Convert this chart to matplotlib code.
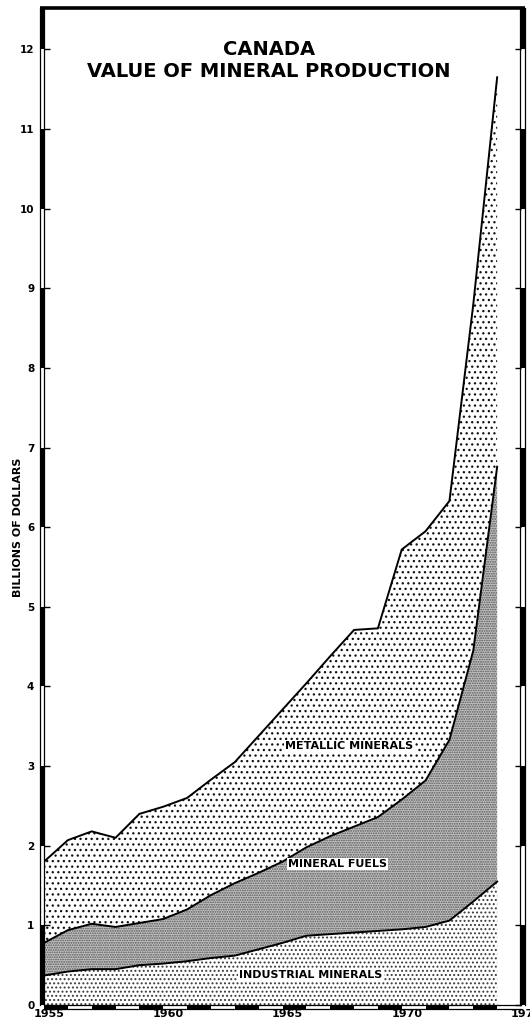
import matplotlib
matplotlib.use('Agg')
import matplotlib.pyplot as plt
import matplotlib.transforms as mtransforms
from matplotlib.patches import Rectangle
import numpy as np

# ---------------- data (billions of dollars) ----------------
years = list(range(1955, 1975))
industrial = [0.37, 0.42, 0.45, 0.45, 0.50, 0.52, 0.55, 0.59, 0.62, 0.70,
              0.78, 0.87, 0.89, 0.91, 0.93, 0.95, 0.98, 1.06, 1.30, 1.55]
fuels = [0.41, 0.52, 0.57, 0.53, 0.53, 0.56, 0.65, 0.79, 0.91, 0.96,
         1.02, 1.11, 1.23, 1.33, 1.43, 1.63, 1.84, 2.27, 3.15, 5.21]
metallic = [1.02, 1.13, 1.16, 1.12, 1.37, 1.41, 1.40, 1.45, 1.52, 1.72,
            1.91, 2.06, 2.26, 2.47, 2.37, 3.14, 3.13, 3.00, 4.35, 4.89]
series_labels = ["INDUSTRIAL MINERALS", "MINERAL FUELS", "METALLIC MINERALS"]
y_ticks = list(range(0, 13))
x_ticks = [1955, 1960, 1965, 1970, 1975]
x_ticklabels = ["1955", "1960", "1965", "1970", "1975"]
title_lines = ["CANADA", "VALUE OF MINERAL PRODUCTION"]
y_label = "BILLIONS OF DOLLARS"

# ---------------- figure ----------------
plt.rcParams['font.family'] = ['DejaVu Sans']
plt.rcParams['hatch.linewidth'] = 0.9
W, H = 530, 1022
fig = plt.figure(figsize=(W / 100, H / 100), dpi=100)
ax_l, ax_b, ax_w, ax_h = 44, 17, 477, 997
ax = fig.add_axes([ax_l / W, ax_b / H, ax_w / W, ax_h / H])
ax.set_xlim(1955, 1975)
ax.set_ylim(0, 12.52)

x = np.array(years)
b1 = np.array(industrial)
b2 = b1 + np.array(fuels)
b3 = b2 + np.array(metallic)

# layers (base fill + stipple hatch)
ax.fill_between(x, 0, b1, facecolor='white', linewidth=0)
ax.fill_between(x, 0, b1, facecolor='none', edgecolor='#3a3a3a', linewidth=0, hatch='....')
ax.fill_between(x, b1, b2, facecolor='#c4c4c4', linewidth=0)
ax.fill_between(x, b1, b2, facecolor='none', edgecolor='#555555', linewidth=0, hatch='.......')
ax.fill_between(x, b2, b3, facecolor='white', linewidth=0)
ax.fill_between(x, b2, b3, facecolor='none', edgecolor='#111111', linewidth=0, hatch='...')
for b in (b1, b2, b3):
    ax.plot(x, b, color='black', lw=1.4, solid_joinstyle='miter')

# in-plot labels with white boxes
lab_kw = dict(ha='center', va='center', fontsize=8, fontweight='bold', color='black',
              bbox=dict(facecolor='white', edgecolor='none', pad=1.0))
ax.text(1966.2, 0.38, series_labels[0], **lab_kw)
ax.text(1967.3, 1.77, series_labels[1], **lab_kw)
ax.text(1967.8, 3.25, series_labels[2], **lab_kw)

# ---------------- frame: alternating scale bars ----------------
for s in ax.spines.values():
    s.set_visible(False)
ymax = ax.get_ylim()[1]
pxw = 1.0 / ax_w   # one pixel in axes-x fraction
pxh = 1.0 / ax_h   # one pixel in axes-y fraction
ty = mtransforms.blended_transform_factory(ax.transAxes, ax.transData)
tx = mtransforms.blended_transform_factory(ax.transData, ax.transAxes)

def vbar(x0, x1):
    for k in y_ticks:
        top = min(k + 1, ymax)
        if k % 2 == 0:
            ax.add_patch(Rectangle((x0, k), x1 - x0, top - k, transform=ty,
                                   facecolor='black', edgecolor='none', clip_on=False, zorder=5))
    for xx in (x0, x1):
        ax.plot([xx, xx], [0, ymax], transform=ty, color='black', lw=0.9, clip_on=False, zorder=5)

vbar(-4.5 * pxw, 0.0)
vbar(1 - 1.0 * pxw, 1 + 3.5 * pxw)

for i, yr in enumerate(range(1955, 1975)):
    if i % 2 == 0:
        ax.add_patch(Rectangle((yr, -4 * pxh), 1, 4 * pxh, transform=tx,
                               facecolor='black', edgecolor='none', clip_on=False, zorder=5))
ax.plot([1955, 1975], [-4 * pxh, -4 * pxh], transform=tx, color='black', lw=0.9, clip_on=False, zorder=5)
ax.plot([1955, 1975], [0, 0], transform=tx, color='black', lw=0.9, clip_on=False, zorder=5)
# heavy top border
ax.plot([-4.5 * pxw, 1 + 3.5 * pxw], [1, 1], transform=ax.transAxes, color='black', lw=2.6,
        clip_on=False, zorder=6, solid_capstyle='butt')

# ---------------- ticks ----------------
ax.set_yticks(y_ticks)
ax.set_yticklabels([str(v) for v in y_ticks])
ax.tick_params(axis='y', direction='in', length=4, width=1, left=True, right=True,
               labelleft=True, labelsize=7.5, pad=7)
for lbl in ax.get_yticklabels():
    lbl.set_fontweight('bold')
ax.set_xticks(x_ticks)
ax.set_xticklabels(x_ticklabels)
ax.tick_params(axis='x', length=0, labelsize=8, pad=3)
off = mtransforms.ScaledTranslation(5 / 100, 0, fig.dpi_scale_trans)
for lbl in ax.get_xticklabels():
    lbl.set_fontweight('bold')
    lbl.set_transform(lbl.get_transform() + off)

ax.text(-26 / ax_w, 6.0, y_label, transform=ty, rotation=90, ha='center', va='center',
        fontsize=8, fontweight='bold')

# ---------------- title ----------------
ax.text(0.472, 12.0, title_lines[0], transform=ty, ha='center', va='center',
        fontsize=14, fontweight='bold')
ax.text(0.472, 11.72, title_lines[1], transform=ty, ha='center', va='center',
        fontsize=14, fontweight='bold')

fig.savefig('out.png', dpi=100)
